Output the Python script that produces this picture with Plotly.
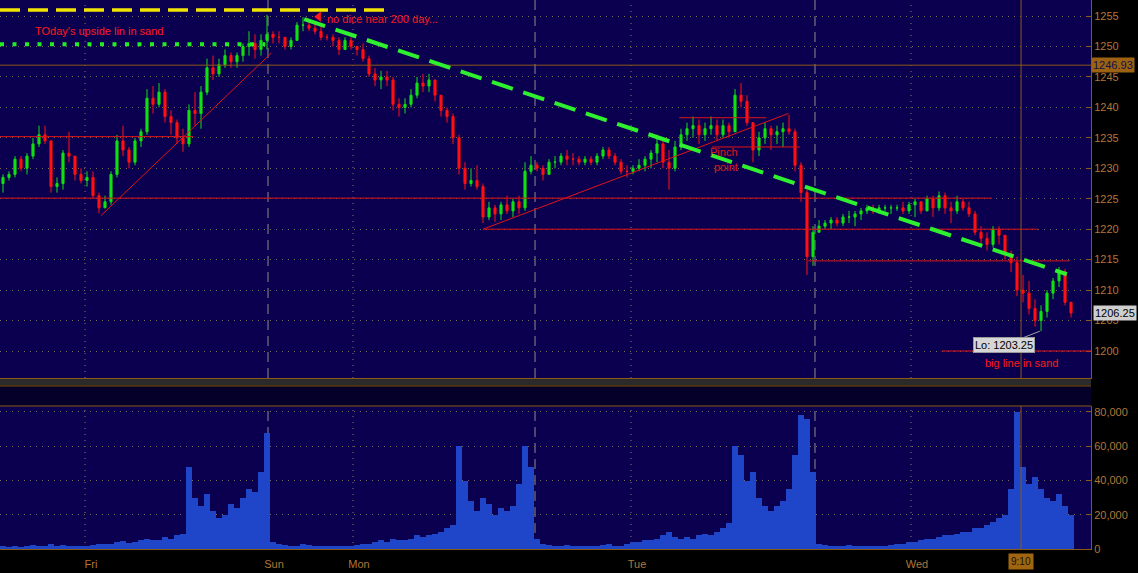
import plotly.graph_objects as go

# ---------------- data ----------------
highs = [
    1229.0, 1229.5, 1232.0, 1232.0, 1232.5, 1235.0, 1237.0, 1237.0, 1234.5, 1228.5,
    1233.0, 1236.0, 1232.0, 1230.0, 1229.5, 1229.5, 1226.0, 1225.5, 1229.5, 1235.5,
    1237.0, 1233.5, 1235.0, 1236.5, 1243.0, 1243.5, 1244.0, 1243.0, 1239.5, 1238.0,
    1236.5, 1240.5, 1242.5, 1243.5, 1248.0, 1248.5, 1248.0, 1249.5, 1249.0, 1249.0,
    1250.5, 1252.5, 1252.0, 1252.0, 1255.2, 1252.5, 1252.5, 1251.5, 1251.5, 1254.0,
    1254.8, 1254.5, 1254.0, 1253.5, 1252.0, 1252.0, 1251.5, 1251.5, 1251.5, 1250.0,
    1250.5, 1248.5, 1246.5, 1246.0, 1246.0, 1245.0, 1241.5, 1241.5, 1243.0, 1245.0,
    1245.5, 1245.5, 1244.0, 1242.0, 1240.0, 1239.0, 1235.5, 1231.0, 1230.0, 1230.5,
    1227.5, 1224.5, 1224.0, 1224.5, 1225.5, 1225.0, 1225.5, 1231.0, 1232.0, 1231.0,
    1230.5, 1231.5, 1232.0, 1232.5, 1233.0, 1232.5, 1232.0, 1232.0, 1232.0, 1232.5,
    1233.5, 1233.5, 1232.5, 1231.5, 1230.5, 1230.5, 1231.5, 1232.0, 1233.0, 1235.5,
    1234.5, 1233.0, 1234.5, 1236.5, 1237.5, 1238.5, 1238.0, 1237.5, 1238.5, 1238.0,
    1238.0, 1237.5, 1243.0, 1244.0, 1242.0, 1237.5, 1236.0, 1237.5, 1237.0, 1237.0,
    1237.5, 1238.8, 1236.5, 1231.0, 1226.5, 1220.5, 1221.5, 1221.5, 1222.0, 1222.0,
    1222.5, 1223.0, 1223.0, 1223.5, 1224.0, 1224.0, 1224.0, 1224.0, 1224.0, 1224.0,
    1224.5, 1224.5, 1225.0, 1224.5, 1225.5, 1225.5, 1226.2, 1226.0, 1224.5, 1225.5,
    1225.0, 1224.5, 1223.0, 1220.5, 1219.5, 1220.5, 1220.5, 1219.0, 1216.5, 1215.5,
    1212.5, 1211.5, 1208.5, 1207.5, 1210.0, 1212.0, 1213.8, 1213.5, 1208.0,
]
lows = [
    1226.0, 1228.0, 1228.5, 1229.5, 1229.0, 1231.5, 1233.5, 1234.0, 1226.0, 1226.0,
    1226.5, 1231.0, 1228.0, 1227.5, 1227.0, 1225.0, 1222.6, 1223.5, 1224.0, 1228.5,
    1232.0, 1230.0, 1230.5, 1233.5, 1235.5, 1239.0, 1240.0, 1237.5, 1235.5, 1234.0,
    1232.7, 1233.5, 1237.0, 1236.5, 1242.0, 1244.5, 1245.0, 1246.5, 1246.5, 1246.5,
    1247.5, 1248.5, 1248.0, 1248.5, 1249.5, 1250.5, 1250.5, 1249.5, 1249.5, 1251.0,
    1252.5, 1252.5, 1252.0, 1251.0, 1251.0, 1250.0, 1248.6, 1249.5, 1249.5, 1248.5,
    1247.5, 1245.0, 1243.5, 1243.0, 1243.5, 1239.5, 1238.5, 1239.0, 1240.0, 1241.5,
    1242.5, 1242.5, 1241.0, 1238.5, 1237.5, 1234.0, 1229.0, 1226.5, 1227.0, 1226.5,
    1221.0, 1221.5, 1221.2, 1221.5, 1222.5, 1222.0, 1222.5, 1223.0, 1229.0, 1229.5,
    1228.0, 1229.0, 1230.0, 1230.5, 1230.5, 1230.5, 1230.5, 1230.5, 1230.5, 1230.5,
    1231.5, 1231.5, 1230.5, 1229.0, 1228.5, 1229.0, 1229.5, 1229.5, 1230.0, 1231.0,
    1230.0, 1226.5, 1229.5, 1233.0, 1234.5, 1235.0, 1234.0, 1234.5, 1235.5, 1234.5,
    1235.0, 1235.0, 1236.0, 1240.0, 1237.0, 1231.0, 1232.0, 1234.0, 1233.0, 1234.0,
    1233.5, 1235.5, 1229.5, 1224.5, 1212.5, 1214.0, 1219.5, 1220.0, 1220.0, 1220.5,
    1220.5, 1221.0, 1220.5, 1221.5, 1222.5, 1222.5, 1222.5, 1223.0, 1222.5, 1223.0,
    1222.5, 1222.5, 1222.0, 1222.5, 1223.5, 1222.0, 1223.0, 1222.5, 1221.0, 1222.5,
    1223.0, 1222.0, 1219.0, 1217.5, 1216.5, 1217.0, 1217.5, 1215.0, 1213.0, 1209.0,
    1208.0, 1206.0, 1204.0, 1203.25, 1205.5, 1208.5, 1210.5, 1207.5, 1205.5,
]
closes = [
    1228.5, 1229.0, 1231.5, 1230.0, 1232.0, 1234.0, 1235.5, 1234.5, 1227.0, 1227.5,
    1232.5, 1232.0, 1229.0, 1228.0, 1228.5, 1225.5, 1223.5, 1224.5, 1229.0, 1234.5,
    1233.0, 1231.0, 1234.5, 1236.0, 1241.5, 1240.5, 1242.5, 1238.5, 1237.5, 1235.0,
    1234.0, 1239.5, 1239.0, 1242.5, 1246.5, 1245.5, 1247.0, 1248.5, 1247.5, 1248.5,
    1250.0, 1250.5, 1249.5, 1251.0, 1252.0, 1251.5, 1251.5, 1250.0, 1251.0, 1253.5,
    1253.5, 1253.0, 1252.5, 1251.5, 1251.5, 1251.0, 1249.5, 1251.0, 1250.0, 1249.5,
    1248.0, 1245.5, 1244.5, 1245.0, 1244.5, 1240.5, 1240.0, 1240.5, 1242.0, 1244.0,
    1243.5, 1244.5, 1242.0, 1239.5, 1238.5, 1235.0, 1230.0, 1227.5, 1228.0, 1227.0,
    1222.0, 1223.5, 1222.5, 1224.0, 1223.0, 1224.5, 1223.5, 1229.5, 1230.5, 1230.0,
    1229.0, 1231.0, 1231.0, 1232.0, 1231.5, 1231.5, 1231.0, 1231.5, 1231.0, 1232.0,
    1233.0, 1232.0, 1231.0, 1229.5, 1229.5, 1230.0, 1230.5, 1231.5, 1232.5, 1234.0,
    1231.0, 1230.0, 1233.5, 1235.5, 1236.5, 1237.0, 1235.5, 1236.5, 1237.0, 1235.5,
    1237.0, 1236.0, 1242.0, 1241.0, 1237.5, 1233.0, 1235.0, 1236.5, 1235.5, 1236.0,
    1236.5, 1236.0, 1230.5, 1226.0, 1215.5, 1219.5, 1220.5, 1221.0, 1221.5, 1221.0,
    1222.0, 1222.0, 1222.5, 1223.0, 1223.5, 1223.0, 1223.5, 1223.5, 1223.5, 1223.5,
    1223.0, 1224.0, 1224.5, 1223.0, 1225.0, 1223.5, 1225.5, 1223.5, 1223.0, 1224.5,
    1223.5, 1222.5, 1219.5, 1218.5, 1217.5, 1220.0, 1219.0, 1216.0, 1214.5, 1210.0,
    1209.5, 1207.0, 1205.0, 1206.5, 1209.5, 1211.5, 1213.0, 1208.0, 1206.25,
]
first_open = 1227.5

volume_k = [
    1.5, 1, 1.5, 1, 2, 2.5, 2, 1.5, 3, 2, 2.5, 2, 1.5, 1.5, 2, 2.5, 3, 3,
    3, 4, 4.5, 3.5, 4, 5, 6, 5, 5.5, 7, 6, 8, 9,
    48, 30, 25, 32, 22, 18, 20, 26, 24, 30, 35, 33, 45, 68,
    4, 3, 2.5, 2, 2, 3, 2.5, 2, 2, 1.5, 2, 2, 1.5, 2,
    2.5, 3, 3, 4, 5, 4, 6, 5, 5, 6, 8, 7, 8, 9, 10, 12, 14,
    60, 40, 28, 22, 30, 26, 20, 24, 22, 25, 38, 60, 48,
    6,
    3, 2.5, 2, 2, 2.5, 2, 2, 1.5, 2, 2, 2.5, 3, 2, 2, 3, 4,
    4, 5, 5, 6, 8, 10, 7, 6, 7, 6, 8, 9, 8, 10, 12, 15,
    60, 55, 40, 45, 30, 25, 22, 25, 28, 35, 55, 78, 76, 45,
    3, 2.5, 2, 2, 2, 2.5, 2, 2, 1.5, 2, 2, 2, 2.5, 3, 3, 4,
    4, 5, 6, 6, 7, 8, 8, 9, 10, 10, 12, 12, 14, 16, 18, 20,
    35, 80, 48, 38, 42, 35, 30, 28, 32, 25, 20,
]

# time axis labels (bar positions)
day_labels = ["Fri", "Sun", "Mon", "Tue", "Wed"]
day_label_pos = [13.67, 44.17, 58.33, 104.67, 151.33]
midnight_pos = [13.67, 58.33, 104.67, 151.33]
session_pos = [44.17, 88.67, 135.33]
cursor_pos = 169.67
cursor_label = "9:10"

last_price = 1206.25
marker_price = 1246.93
low_price = 1203.25
low_bar = 172.8

price_ticks = list(range(1200, 1256, 5))
volume_ticks = [0, 20000, 40000, 60000, 80000]

# drawn study lines: (x0, y0, x1, y1)
red_lines = [
    (16.3, 1222.2, 44.7, 1248.9),
    (80.0, 1220.0, 130.9, 1239.0),
    (-0.5, 1235.2, 31.7, 1235.2),
    (-0.5, 1225.1, 164.8, 1225.1),
    (80.0, 1220.0, 172.5, 1220.0),
    (134.2, 1214.8, 177.8, 1214.8),
    (156.5, 1200.0, 181.33, 1200.0),
    (112.7, 1238.3, 127.2, 1238.3),
    (118.2, 1233.5, 132.8, 1233.5),
]
green_trend = (50.2, 1254.5, 177.3, 1212.6)
yellow_level = (-0.5, 64.5, 1256.0)
green_level = (-0.5, 43.7, 1250.35)

# ---------------- figure ----------------
n = len(closes)
assert len(highs) == n and len(lows) == n and len(volume_k) == n
xs = list(range(n))
opens = [first_open] + closes[:-1]
volumes = [v * 1000 for v in volume_k]

NAVY = "#0b0050"
BROWN = "#8a5a14"
TICKC = "#b0763a"
RED = "#ff1a1a"

fig = go.Figure()
fig.add_trace(go.Candlestick(
    x=xs, open=opens, high=highs, low=lows, close=closes,
    increasing=dict(line=dict(color="#10e010", width=1), fillcolor="#10e010"),
    decreasing=dict(line=dict(color="#ff1010", width=1), fillcolor="#ff1010"),
    whiskerwidth=0, xaxis="x", yaxis="y", showlegend=False, hoverinfo="skip",
))
fig.add_trace(go.Bar(
    x=xs, y=volumes, marker=dict(color="#1f46c8", line=dict(width=0)),
    xaxis="x2", yaxis="y2", showlegend=False, hoverinfo="skip",
))
# arrow head for "no dice" note
fig.add_trace(go.Scatter(
    x=[52.6], y=[1254.9], mode="markers",
    marker=dict(symbol="triangle-left", size=9, color=RED),
    xaxis="x", yaxis="y", showlegend=False, hoverinfo="skip",
))

shapes = []
for (x0, y0, x1, y1) in red_lines:
    shapes.append(dict(type="line", xref="x", yref="y", x0=x0, y0=y0, x1=x1, y1=y1,
                       line=dict(color="#e01414", width=1)))
shapes.append(dict(type="line", xref="x", yref="y", x0=-0.5, x1=181.33,
                   y0=marker_price, y1=marker_price, line=dict(color=BROWN, width=1)))
shapes.append(dict(type="line", xref="x", yref="y", x0=yellow_level[0], x1=yellow_level[1],
                   y0=yellow_level[2], y1=yellow_level[2],
                   line=dict(color="#f2e600", width=3.5, dash="20px,8px")))
shapes.append(dict(type="line", xref="x", yref="y", x0=green_level[0], x1=green_level[1],
                   y0=green_level[2], y1=green_level[2],
                   line=dict(color="#22ee22", width=4, dash="4px,8.5px")))
shapes.append(dict(type="line", xref="x", yref="y", x0=green_trend[0], y0=green_trend[1],
                   x1=green_trend[2], y1=green_trend[3],
                   line=dict(color="#2ef02e", width=4, dash="22px,11px")))
for dom in ["y domain", "y2 domain"]:
    for p in midnight_pos:
        shapes.append(dict(type="line", xref="x", yref=dom, x0=p, x1=p, y0=0, y1=1,
                           layer="below", line=dict(color="#8a7c60", width=1, dash="1px,5px")))
    for p in session_pos:
        shapes.append(dict(type="line", xref="x", yref=dom, x0=p, x1=p, y0=0, y1=1,
                           layer="below", line=dict(color="#8c8c8c", width=1, dash="10px,6px")))
    shapes.append(dict(type="line", xref="x", yref=dom, x0=cursor_pos, x1=cursor_pos, y0=0, y1=1,
                       line=dict(color=BROWN, width=1)))
# separator band between panels (paper coords of a 549px-high plot area)
shapes.append(dict(type="rect", xref="paper", yref="paper", x0=0, x1=1, y0=0.2605, y1=0.2969,
                   fillcolor="#05002a", line=dict(width=0), layer="below"))
shapes.append(dict(type="rect", xref="paper", yref="paper", x0=0, x1=1, y0=0.2985, y1=0.3100,
                   fillcolor="#2b2b2b", line=dict(width=0), layer="below"))
shapes.append(dict(type="line", xref="paper", yref="paper", x0=0, x1=1, y0=0.2970, y1=0.2970,
                   line=dict(color=BROWN, width=1)))
shapes.append(dict(type="line", xref="paper", yref="paper", x0=0, x1=1, y0=0.2605, y1=0.2605,
                   line=dict(color=BROWN, width=1)))

FONT = "Liberation Sans, Arial, sans-serif"
annotations = [
    dict(x=16, y=1252.5, xref="x", yref="y", text="TOday's upside lin in sand",
         showarrow=False, font=dict(color=RED, size=11, family=FONT)),
    dict(x=53.7, y=1254.5, xref="x", yref="y", text="no dice near 200 day...",
         showarrow=False, xanchor="left", font=dict(color=RED, size=11, family=FONT)),
    dict(x=120.2, y=1232.7, xref="x", yref="y", text="Pinch",
         showarrow=False, font=dict(color="#e01818", size=11, family=FONT)),
    dict(x=120.5, y=1230.2, xref="x", yref="y", text="point",
         showarrow=False, font=dict(color="#e01818", size=11, family=FONT)),
    dict(x=169.8, y=1198.0, xref="x", yref="y", text="big line in sand",
         showarrow=False, font=dict(color=RED, size=11, family=FONT)),
    dict(x=low_bar, y=low_price, xref="x", yref="y", text="Lo: " + f"{low_price:.2f}",
         showarrow=True, arrowhead=0, arrowcolor="#a0a0a0", arrowwidth=1,
         ax=-36, ay=14, standoff=0, bgcolor="#d6d6d6", bordercolor="#9a9a9a",
         borderpad=1, font=dict(color="#000000", size=11, family=FONT)),
    dict(x=1.0, y=marker_price, xref="paper", yref="y", text=f"{marker_price:.2f}",
         xanchor="left", showarrow=False, bgcolor="#9c6212", borderpad=1,
         font=dict(color="#10104a", size=11, family=FONT)),
    dict(x=1.002, y=last_price, xref="paper", yref="y", text=f"{last_price:.2f}",
         xanchor="left", showarrow=False, bgcolor="#cfcfcf", borderpad=1,
         font=dict(color="#000000", size=11, family=FONT)),
    dict(x=cursor_pos, y=-0.007, xref="x", yref="paper", text=cursor_label,
         yanchor="top", showarrow=False, bgcolor="#a0660f", borderpad=2,
         font=dict(color="#1a1000", size=10, family=FONT)),
]

grid_dash = "1px,5px"
fig.update_layout(
    width=1138, height=573,
    margin=dict(l=0, r=47, t=0, b=24, autoexpand=False),
    paper_bgcolor="#000000", plot_bgcolor=NAVY,
    showlegend=False, bargap=0, boxgap=0.5, hovermode=False,
    font=dict(family=FONT, size=11, color=TICKC),
    xaxis=dict(domain=[0, 1], anchor="y", range=[-0.5, 181.33], showticklabels=False,
               showgrid=False, zeroline=False, rangeslider=dict(visible=False),
               showline=True, linecolor=BROWN, mirror=False, ticks=""),
    yaxis=dict(domain=[0.3115, 1], anchor="x", side="right", range=[1195.57, 1257.63],
               tickvals=price_ticks, ticks="inside", ticklen=5, tickcolor=BROWN,
               showline=True, linecolor=BROWN, gridcolor="#7a6e58", griddash=grid_dash,
               zeroline=False, tickfont=dict(color=TICKC, size=11, family=FONT)),
    xaxis2=dict(domain=[0, 1], anchor="y2", matches="x", range=[-0.5, 181.33],
                tickvals=day_label_pos, ticktext=day_labels, ticks="", showgrid=False,
                zeroline=False, showline=True, linecolor=BROWN, ticklabelshift=6,
                ticklabelstandoff=5,
                tickfont=dict(color=TICKC, size=11, family=FONT)),
    yaxis2=dict(domain=[0, 0.2605], anchor="x2", side="right", range=[0, 83500],
                tickvals=volume_ticks, tickformat=",d", ticks="inside", ticklen=5,
                tickcolor=BROWN, showline=True, linecolor=BROWN, gridcolor="#7a6e58",
                griddash=grid_dash, zeroline=False,
                tickfont=dict(color=TICKC, size=11, family=FONT)),
    shapes=shapes, annotations=annotations,
)

fig.write_html(
    "out.html",
    config={"displayModeBar": False},
    post_script="document.body.style.margin='0';document.body.style.background='#000';",
)
